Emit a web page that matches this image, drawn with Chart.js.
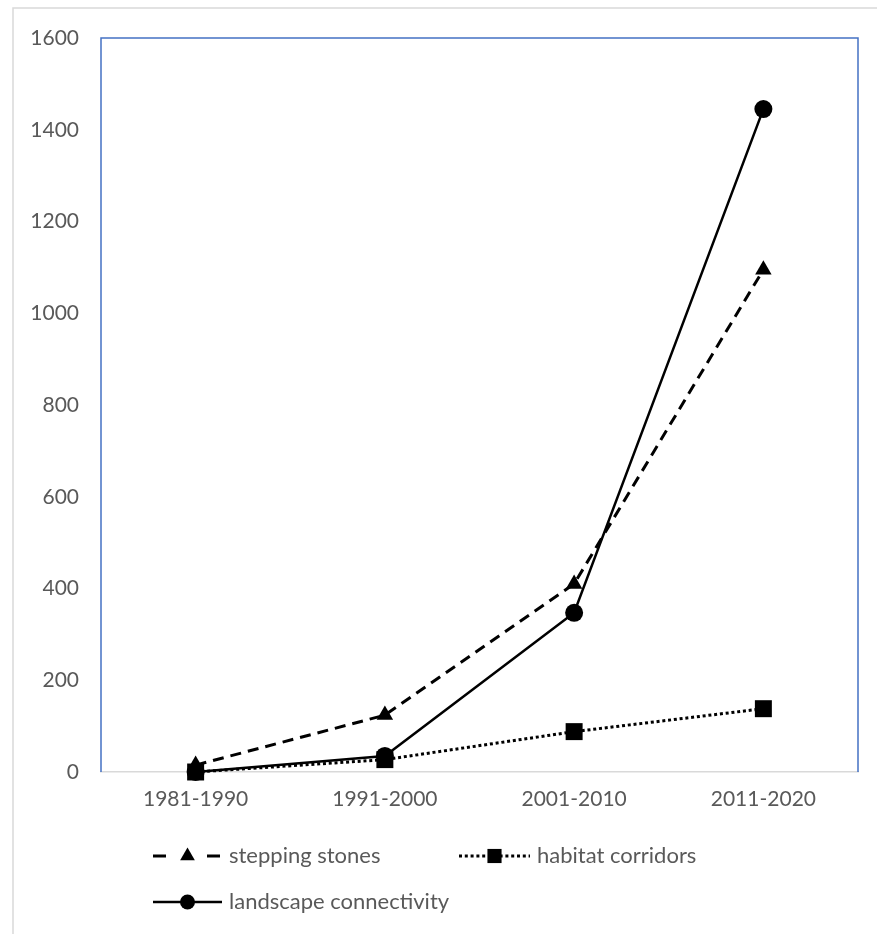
<!DOCTYPE html>
<html>
<head>
<meta charset="utf-8">
<script src="https://cdn.jsdelivr.net/npm/chart.js@4/dist/chart.umd.min.js"></script>
<style>
  html, body { margin: 0; padding: 0; background: #ffffff; }
  #wrap { width: 877px; height: 934px; position: relative; }
</style>
</head>
<body>
<div id="wrap"><canvas id="c" width="877" height="934"></canvas></div>
<script>
// Decades on the horizontal axis
const decades = ['1981-1990', '1991-2000', '2001-2010', '2011-2020'];

// Counts per decade for each term
const steppingStones = [15, 124, 410, 1095];
const habitatCorridors = [0, 27, 88, 138];
const landscapeConnectivity = [0, 35, 347, 1445];

// Vertical axis range and step
const yMin = 0;
const yMax = 1600;
const yStep = 200;

const FONT = 'Lato, "Open Sans", "Liberation Sans", sans-serif';
const FONT_SIZE = 21;
const LEGEND_FONT_SIZE = 22;
const TEXT_COLOR = '#595959';

// Frame: blue plot border and light outer border
const framePlugin = {
  id: 'frame',
  beforeDraw(chart) {
    const ctx = chart.ctx;
    ctx.save();
    ctx.fillStyle = '#ffffff';
    ctx.fillRect(0, 0, chart.width, chart.height);
    ctx.strokeStyle = '#d9d9d9';
    ctx.lineWidth = 1.5;
    ctx.strokeRect(13, 8, chart.width + 20, chart.height + 20);
    ctx.restore();
  },
  beforeDatasetsDraw(chart) {
    const a = chart.chartArea;
    const ctx = chart.ctx;
    ctx.save();
    ctx.strokeStyle = '#4472C4';
    ctx.lineWidth = 1.5;
    ctx.beginPath();
    ctx.moveTo(a.left, a.bottom);
    ctx.lineTo(a.left, a.top);
    ctx.lineTo(a.right, a.top);
    ctx.lineTo(a.right, a.bottom);
    ctx.stroke();
    ctx.restore();
  }
};

function drawMarker(ctx, style, x, y, r) {
  ctx.beginPath();
  if (style === 'triangle') {
    let rad = 0;
    ctx.moveTo(x + Math.sin(rad) * r, y - Math.cos(rad) * r);
    rad += 2 * Math.PI / 3;
    ctx.lineTo(x + Math.sin(rad) * r, y - Math.cos(rad) * r);
    rad += 2 * Math.PI / 3;
    ctx.lineTo(x + Math.sin(rad) * r, y - Math.cos(rad) * r);
    ctx.closePath();
  } else if (style === 'rect') {
    const s = r * Math.SQRT1_2;
    ctx.rect(x - s, y - s, 2 * s, 2 * s);
  } else {
    ctx.arc(x, y, r, 0, Math.PI * 2);
  }
  ctx.fill();
}

// Two-row legend with line samples carrying the series' dash styles
const legendPlugin = {
  id: 'lineLegend',
  afterDraw(chart) {
    const ctx = chart.ctx;
    const ds = chart.data.datasets;
    const items = [
      { d: ds[0], x: 153, y: 856, r: 8.5, len: 69, dash: [13, 41] },
      { d: ds[1], x: 459, y: 856, r: 10, len: 71, dash: ds[1].borderDash },
      { d: ds[2], x: 153, y: 902, r: 7.5, len: 69, dash: [] }
    ];
    ctx.save();
    items.forEach(it => {
      const len = it.len;
      ctx.strokeStyle = '#000';
      ctx.fillStyle = '#000';
      ctx.lineWidth = it.d.borderWidth;
      ctx.setLineDash(it.dash);
      ctx.beginPath();
      ctx.moveTo(it.x, it.y);
      ctx.lineTo(it.x + len, it.y);
      ctx.stroke();
      ctx.setLineDash([]);
      drawMarker(ctx, it.d.pointStyle, it.x + len / 2, it.y, it.r);
      ctx.fillStyle = TEXT_COLOR;
      ctx.font = LEGEND_FONT_SIZE + 'px ' + FONT;
      ctx.textBaseline = 'middle';
      ctx.textAlign = 'left';
      ctx.fillText(it.d.label, it.x + len + 7, it.y);
    });
    ctx.restore();
  }
};

new Chart(document.getElementById('c'), {
  type: 'line',
  data: {
    labels: decades,
    datasets: [
      {
        label: 'stepping stones',
        data: steppingStones,
        borderColor: '#000',
        backgroundColor: '#000',
        borderWidth: 3,
        borderDash: [11, 7],
        pointStyle: 'triangle',
        pointRadius: 9.5,
        pointBorderWidth: 0,
        tension: 0,
        clip: false,
        order: 2
      },
      {
        label: 'habitat corridors',
        data: habitatCorridors,
        borderColor: '#000',
        backgroundColor: '#000',
        borderWidth: 3,
        borderDash: [3, 2.8],
        pointStyle: 'rect',
        pointRadius: 12,
        pointBorderWidth: 0,
        tension: 0,
        clip: false,
        order: 1
      },
      {
        label: 'landscape connectivity',
        data: landscapeConnectivity,
        borderColor: '#000',
        backgroundColor: '#000',
        borderWidth: 2.5,
        pointStyle: 'circle',
        pointRadius: 9,
        pointBorderWidth: 0,
        tension: 0,
        clip: false,
        order: 0
      }
    ]
  },
  options: {
    responsive: false,
    animation: false,
    devicePixelRatio: 1,
    layout: { padding: { left: 13, top: 38, right: 19, bottom: 0 } },
    plugins: {
      legend: { display: false },
      tooltip: { enabled: false }
    },
    scales: {
      x: {
        offset: true,
        grid: { display: false, drawTicks: false },
        border: { display: true, color: '#d9d9d9', width: 1.5 },
        ticks: {
          color: TEXT_COLOR,
          font: { family: FONT, size: FONT_SIZE },
          padding: 15,
          maxRotation: 0
        },
        afterFit(scale) { scale.height = 934 - 772; }
      },
      y: {
        min: yMin,
        max: yMax,
        grid: { display: false, drawTicks: false },
        border: { display: false },
        ticks: {
          stepSize: yStep,
          color: TEXT_COLOR,
          font: { family: FONT, size: FONT_SIZE },
          padding: 22,
          callback: (v) => String(v)
        },
        afterFit(scale) { scale.width = 88; }
      }
    }
  },
  plugins: [framePlugin, legendPlugin]
});
</script>
</body>
</html>
